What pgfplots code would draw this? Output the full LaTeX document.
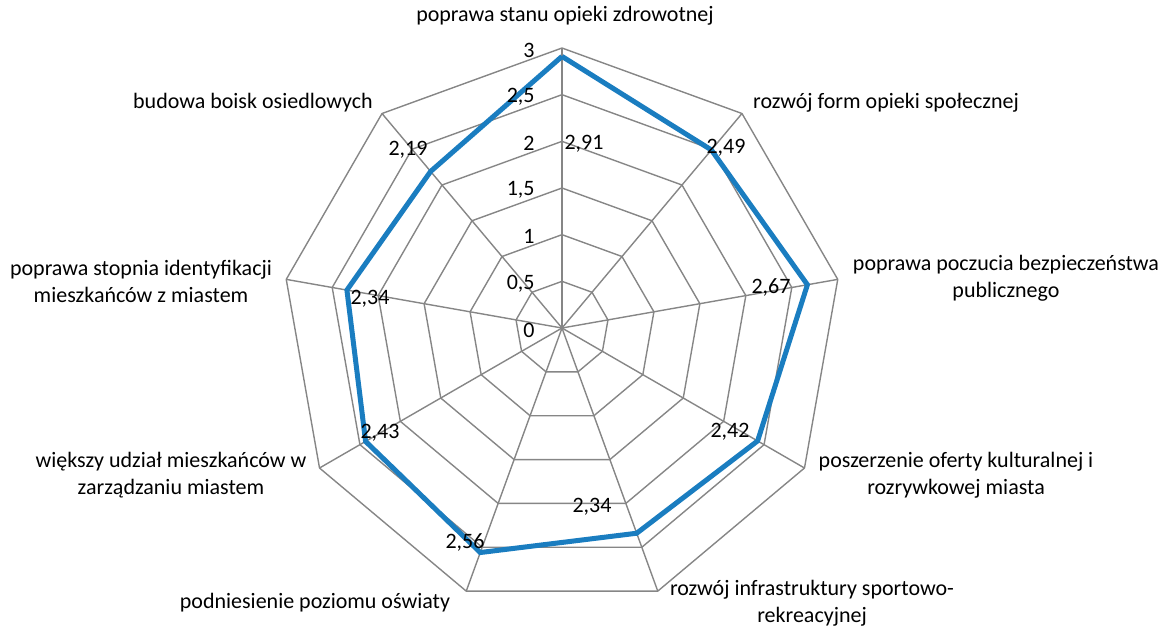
\documentclass[border=0pt]{standalone}
\usepackage{fontspec}
\setmainfont{Carlito}
\usepackage{pgfplots}
\pgfplotsset{compat=1.18}
\usepgfplotslibrary{polar}
\definecolor{gridc}{RGB}{134,134,134}
\definecolor{serie}{RGB}{26,125,192}

\begin{document}
\begin{tikzpicture}[font=\fontsize{11}{13.5}\selectfont]
\begin{polaraxis}[
    hide axis, clip=false,
    scale only axis, width=280pt, height=280pt,
    ymin=0, ymax=3, xmin=0, xmax=360,
]
% polygon rings
\pgfplotsinvokeforeach{0.5,1,1.5,2,2.5,3}{
  \addplot[gridc, line width=0.7pt, no markers] coordinates {
    (90,#1)(50,#1)(10,#1)(330,#1)(290,#1)(250,#1)(210,#1)(170,#1)(130,#1)(90,#1)};
}
% spokes
\pgfplotsinvokeforeach{50,10,330,290,250,210,170,130}{
  \addplot[gridc, line width=0.7pt, no markers] coordinates {(#1,0)(#1,3)};
}
\addplot[gridc, line width=1.1pt, no markers] coordinates {(90,0)(90,3)};

% series
\addplot[serie, line width=2.5pt, no markers, line join=miter] coordinates {
  (90,2.91)(50,2.49)(10,2.67)(330,2.42)(290,2.34)(250,2.56)(210,2.43)(170,2.34)(130,2.19)(90,2.91)};

\coordinate (c) at (axis cs:0,0);
\end{polaraxis}

% radial tick labels
\foreach \v/\t in {0/0, 0.5/{0,5}, 1/1, 1.5/{1,5}, 2/2, 2.5/{2,5}, 3/3}
  \node[anchor=east, inner sep=0pt] at ([shift={(-13.5pt,\v*46.667pt-1pt)}]c) {\t};

% data labels
\node at ([shift={(11pt,92pt)}]c) {2,91};
\node at ([shift={(82pt,90pt)}]c) {2,49};
\node at ([shift={(104.5pt,20.5pt)}]c) {2,67};
\node at ([shift={(84pt,-52pt)}]c) {2,42};
\node at ([shift={(15pt,-89.5pt)}]c) {2,34};
\node at ([shift={(-48.5pt,-107pt)}]c) {2,56};
\node at ([shift={(-91pt,-52.5pt)}]c) {2,43};
\node at ([shift={(-96pt,14.5pt)}]c) {2,34};
\node at ([shift={(-77pt,89pt)}]c) {2,19};

% category labels
\node[align=center] at ([shift={(1.5pt,156pt)}]c) {poprawa stanu opieki zdrowotnej};
\node[align=center] at ([shift={(162pt,112.5pt)}]c) {rozwój form opieki społecznej};
\node[align=center] at ([shift={(222pt,24.75pt)}]c) {poprawa poczucia bezpieczeństwa\\publicznego};
\node[align=center] at ([shift={(197pt,-73.5pt)}]c) {poszerzenie oferty kulturalnej i\\rozrywkowej miasta};
\node[align=center] at ([shift={(125pt,-137.75pt)}]c) {rozwój infrastruktury sportowo-\\rekreacyjnej};
\node[align=center] at ([shift={(-123.5pt,-137.5pt)}]c) {podniesienie poziomu oświaty};
\node[align=center] at ([shift={(-195.5pt,-73.5pt)}]c) {większy udział mieszkańców w\\zarządzaniu miastem};
\node[align=center] at ([shift={(-210.5pt,23.25pt)}]c) {poprawa stopnia identyfikacji\\mieszkańców z miastem};
\node[align=center] at ([shift={(-154.5pt,112.5pt)}]c) {budowa boisk osiedlowych};

\pgfresetboundingbox
\path[use as bounding box] ([shift={(-281pt,164pt)}]c) rectangle ([shift={(301.5pt,-150pt)}]c);
\end{tikzpicture}
\end{document}
